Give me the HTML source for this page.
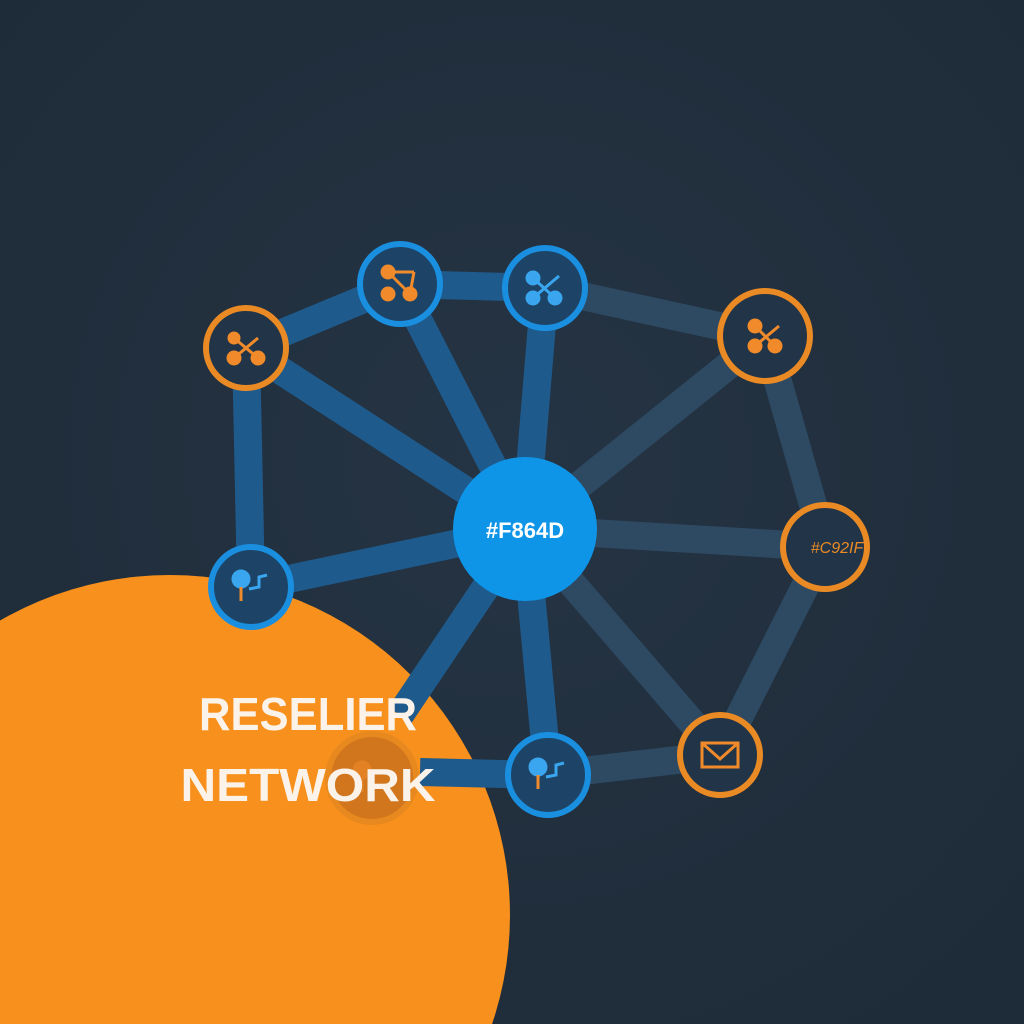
<!DOCTYPE html>
<html><head><style>
html,body{margin:0;padding:0;background:#22303e;width:1024px;height:1024px;overflow:hidden;}
svg{display:block}
</style></head><body>
<svg width="1024" height="1024" viewBox="0 0 1024 1024" xmlns="http://www.w3.org/2000/svg">
<defs>
<radialGradient id="bg" cx="50%" cy="45%" r="70%">
<stop offset="0" stop-color="#253444"/><stop offset="1" stop-color="#1e2b38"/>
</radialGradient>
</defs>
<rect width="1024" height="1024" fill="url(#bg)"/>
<g stroke-width="28" stroke-linecap="butt" fill="none">
<g stroke="#1f5a8c">
<line x1="246" y1="348" x2="400" y2="284"/>
<line x1="400" y1="284" x2="545" y2="288"/>
<line x1="246" y1="348" x2="251" y2="587"/>
<line x1="525" y1="529" x2="246" y2="348"/>
<line x1="525" y1="529" x2="400" y2="284"/>
<line x1="525" y1="529" x2="545" y2="288"/>
<line x1="525" y1="529" x2="251" y2="587"/>
<line x1="525" y1="529" x2="548" y2="775"/>
</g>
<g stroke="#2e4a63">
<line x1="545" y1="288" x2="765" y2="336"/>
<line x1="765" y1="336" x2="825" y2="547"/>
<line x1="825" y1="547" x2="720" y2="755"/>
<line x1="720" y1="755" x2="548" y2="775"/>
<line x1="525" y1="529" x2="765" y2="336"/>
<line x1="525" y1="529" x2="825" y2="547"/>
<line x1="525" y1="529" x2="720" y2="755"/>
</g>
</g>
<circle cx="170" cy="915" r="340" fill="#f7901c"/>
<g stroke-width="28" stroke="#1f5a8c" fill="none">
<line x1="525" y1="529" x2="400" y2="715"/>
<line x1="420" y1="772" x2="548" y2="775"/>
</g>
<g stroke-width="6">
<circle cx="246" cy="348" r="40" fill="#223447" stroke="#e98a25"/>
<circle cx="400" cy="284" r="40" fill="#1d4466" stroke="#1a8fe0"/>
<circle cx="545" cy="288" r="40" fill="#1d4466" stroke="#1a8fe0"/>
<circle cx="765" cy="336" r="45" fill="#223447" stroke="#e98a25"/>
<circle cx="825" cy="547" r="42" fill="#223447" stroke="#e98a25"/>
<circle cx="720" cy="755" r="40" fill="#223447" stroke="#e98a25"/>
<circle cx="548" cy="775" r="40" fill="#1d4466" stroke="#1a8fe0"/>
<circle cx="251" cy="587" r="40" fill="#1d4466" stroke="#1a8fe0"/>
<circle cx="372" cy="778" r="44" fill="#c8701e" stroke="#e58820" opacity="0.8"/>
</g>
<circle cx="525" cy="529" r="72" fill="#0f95e8"/>
<g fill="#f08a2a" stroke="#f08a2a" stroke-width="3">
<g transform="translate(400,284)"><circle cx="-12" cy="-12" r="6"/><circle cx="-12" cy="10" r="6"/><circle cx="10" cy="10" r="6"/><line x1="-12" y1="-12" x2="10" y2="10"/><line x1="-12" y1="-12" x2="14" y2="-12"/><line x1="10" y1="10" x2="14" y2="-12"/></g>
<g transform="translate(246,348)"><circle cx="-12" cy="-10" r="5"/><circle cx="-12" cy="10" r="6"/><circle cx="12" cy="10" r="6"/><line x1="-12" y1="-10" x2="12" y2="10"/><line x1="12" y1="-10" x2="-12" y2="10"/></g>
<g transform="translate(765,336)"><circle cx="-10" cy="-10" r="6"/><circle cx="-10" cy="10" r="6"/><circle cx="10" cy="10" r="6"/><line x1="-10" y1="-10" x2="10" y2="10"/><line x1="14" y1="-10" x2="-10" y2="10"/></g>
<g transform="translate(720,755)" fill="none"><rect x="-18" y="-12" width="36" height="24"/><polyline points="-18,-12 0,4 18,-12"/></g>
<g transform="translate(372,778)" opacity="0.6"><circle cx="-10" cy="-8" r="8"/><line x1="-10" y1="0" x2="-10" y2="14"/></g>
</g>
<g fill="#3aa6ef" stroke="#3aa6ef" stroke-width="3">
<g transform="translate(545,288)"><circle cx="-12" cy="-10" r="6"/><circle cx="-12" cy="10" r="6"/><circle cx="10" cy="10" r="6"/><line x1="-12" y1="-10" x2="10" y2="10"/><line x1="14" y1="-12" x2="-12" y2="10"/></g>
<g transform="translate(251,587)"><circle cx="-10" cy="-8" r="8"/><line x1="-10" y1="0" x2="-10" y2="14" stroke="#f08a2a"/><polyline points="-2,2 8,0 8,-10 16,-12" fill="none"/></g>
<g transform="translate(548,775)"><circle cx="-10" cy="-8" r="8"/><line x1="-10" y1="0" x2="-10" y2="14" stroke="#f08a2a"/><polyline points="-2,2 8,0 8,-10 16,-12" fill="none"/></g>
</g>
<text x="525" y="538" font-family="Liberation Sans, sans-serif" font-weight="bold" font-size="22" fill="#ffffff" text-anchor="middle">#F864D</text>
<text x="837" y="553" font-family="Liberation Sans, sans-serif" font-style="italic" font-size="16" fill="#e98a25" text-anchor="middle">#C92IF</text>
<g font-family="Liberation Sans, sans-serif" font-weight="bold" font-size="46" fill="#fbf3ea" text-anchor="middle">
<text x="308" y="730" textLength="218" lengthAdjust="spacingAndGlyphs">RESELIER</text>
<text x="308" y="801" textLength="255" lengthAdjust="spacingAndGlyphs">NETWORK</text>
</g>
</svg>
</body></html>
